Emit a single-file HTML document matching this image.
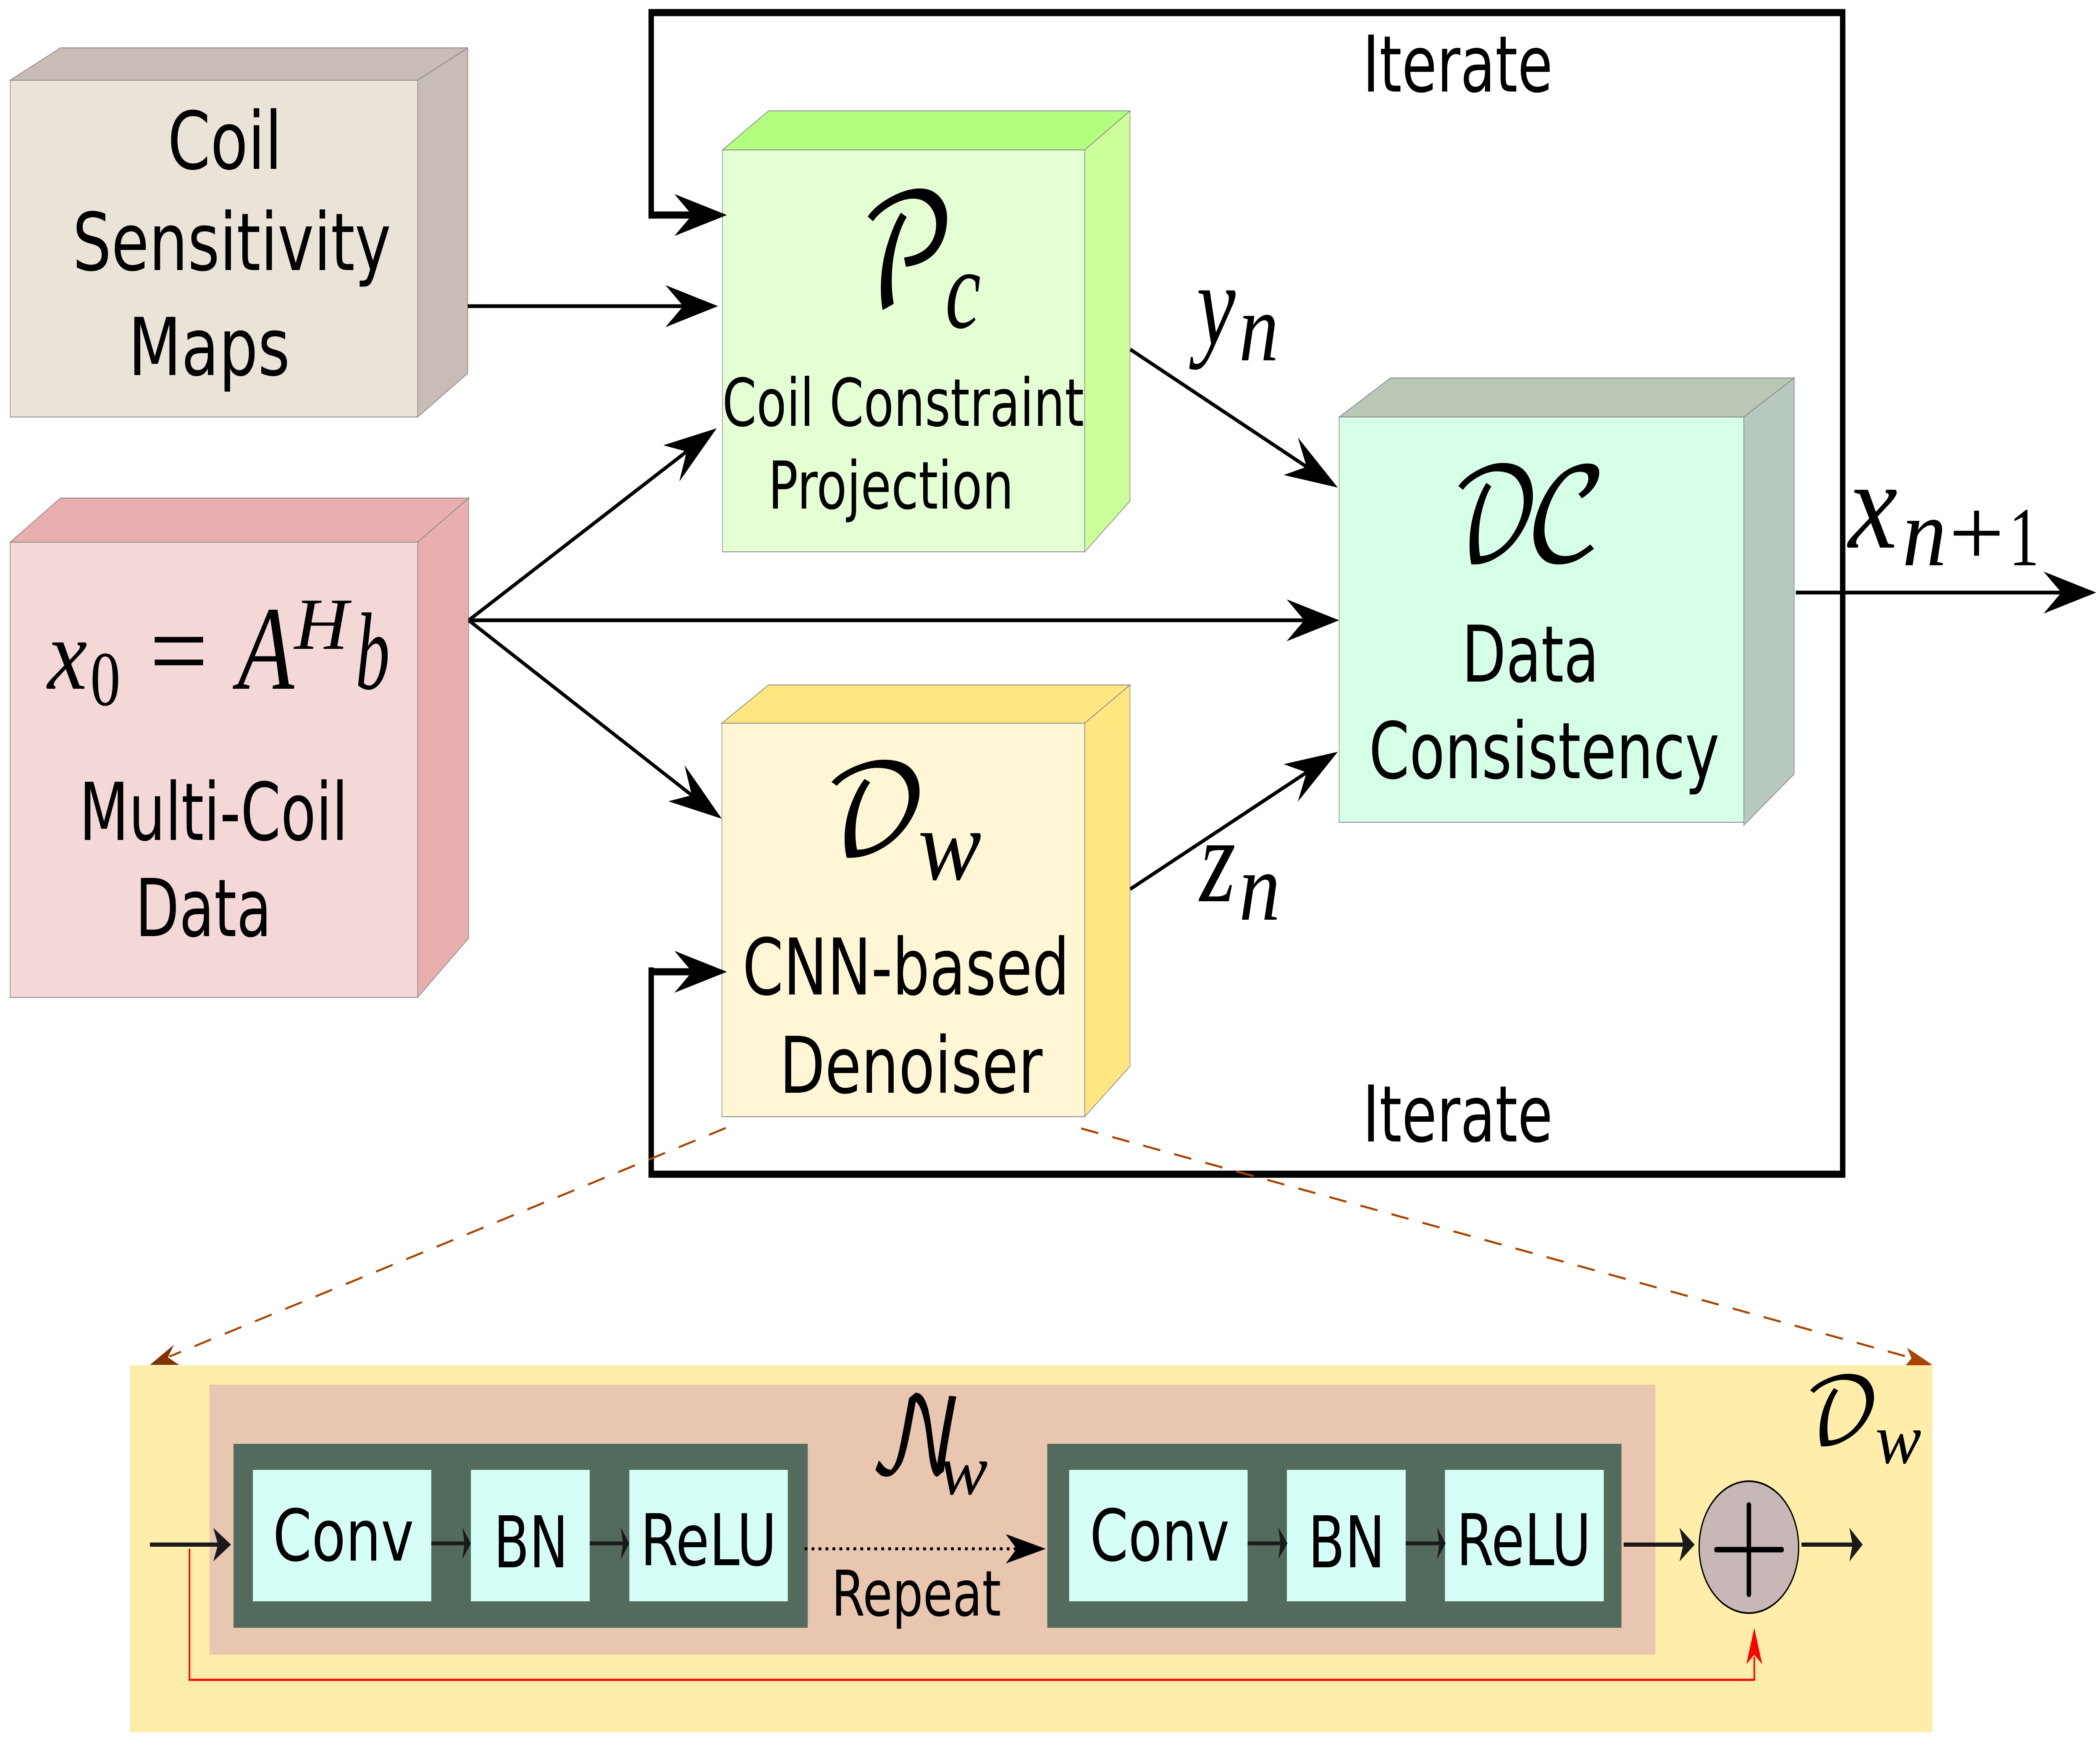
<!DOCTYPE html>
<html><head><meta charset="utf-8"><style>
html,body{margin:0;padding:0;background:#fff;width:6627px;height:4148px;overflow:hidden}
svg{display:block;width:100vw;height:100vh;position:absolute;left:0;top:0}
.s{font-family:"DejaVu Sans",sans-serif;fill:#000}
.m{font-family:"Liberation Serif",serif;font-style:italic;fill:#000}
.r{font-family:"Liberation Serif",serif;fill:#000}
.c{font-family:"DejaVu Math TeX Gyre","DejaVu Serif","DejaVu Sans","Liberation Serif",serif;fill:#000}
</style></head><body>
<svg xmlns="http://www.w3.org/2000/svg" viewBox="0 0 6627 4148" preserveAspectRatio="none">
<defs>
<marker id="h" markerUnits="userSpaceOnUse" orient="auto" overflow="visible" markerWidth="1" markerHeight="1" refX="0" refY="0"><path d="M60,0L-106,-50L-50,0L-106,50z" fill="#000"/></marker>
</defs>
<rect width="6627" height="4148" fill="#fff"/>

<g stroke="#888" stroke-width="2">
<polygon points="32,191 191,114 1476,114 1318,191" fill="#c8bcb6"/>
<polygon points="1318,191 1476,114 1476,889 1318,993" fill="#c8bcb6"/>
<rect x="32" y="191" width="1286" height="802" fill="#e9e3d8"/>
<polygon points="32,1291 191,1186 1479,1186 1318,1291" fill="#e9afaf"/>
<polygon points="1318,1291 1479,1186 1479,2234 1318,2375" fill="#e9afaf"/>
<rect x="32" y="1291" width="1286" height="1084" fill="#f4d7d7"/>
<polygon points="2280,357 2425,264 3566,264 3423,357" fill="#b3ff80"/>
<polygon points="3423,357 3566,264 3566,1193 3423,1314" fill="#ccff99"/>
<rect x="2280" y="357" width="1143" height="957" fill="#e5ffd5"/>
<polygon points="2278,1722 2425,1631 3566,1631 3423,1722" fill="#ffe680"/>
<polygon points="3423,1722 3566,1631 3566,2539 3423,2659" fill="#ffe680"/>
<rect x="2278" y="1722" width="1145" height="937" fill="#fff6d5"/>
<polygon points="4226,993 4388,900 5662,900 5503,993" fill="#bac6b6"/>
<polygon points="5503,993 5662,900 5662,1843 5503,1965" fill="#b7c8be"/>
<rect x="4226" y="993" width="1277" height="965" fill="#d5ffe6"/>
</g>

<path d="M2055,512V30H5815V2796H2055V2312" fill="none" stroke="#000" stroke-width="17" stroke-linejoin="miter" stroke-linecap="square"/>
<path d="M2055,512H2234" fill="none" stroke="#000" stroke-width="17" marker-end="url(#h)" stroke-linecap="butt"/>
<path d="M2055,2314H2234" fill="none" stroke="#000" stroke-width="17" marker-end="url(#h)" stroke-linecap="butt"/>
<g fill="none" stroke="#000" stroke-width="9">
<path d="M1476,729H2206" marker-end="url(#h)"/>
<path d="M1479,1477L2210,1050" marker-end="url(#h)"/>
<path d="M1479,1477H4166" marker-end="url(#h)"/>
<path d="M1479,1477L2226,1919" marker-end="url(#h)"/>
<path d="M3567,832L4168,1134" marker-end="url(#h)"/>
<path d="M3567,2117L4168,1817" marker-end="url(#h)"/>
<path d="M5667,1411H6555" marker-end="url(#h)"/>
</g>

<g class="s" font-size="190">
<text x="529" y="402" textLength="361" lengthAdjust="spacingAndGlyphs">Coil</text>
<text x="229" y="643" textLength="1005" lengthAdjust="spacingAndGlyphs">Sensitivity</text>
<text x="405" y="893" textLength="510" lengthAdjust="spacingAndGlyphs">Maps</text>
<text x="250" y="2000" textLength="848" lengthAdjust="spacingAndGlyphs">Multi-Coil</text>
<text x="427" y="2229" textLength="430" lengthAdjust="spacingAndGlyphs">Data</text>
<text x="2279" y="1014" font-size="157" textLength="1142" lengthAdjust="spacingAndGlyphs">Coil Constraint</text>
<text x="2424" y="1211" font-size="157" textLength="775" lengthAdjust="spacingAndGlyphs">Projection</text>
<text x="2343" y="2368" font-size="186" textLength="1032" lengthAdjust="spacingAndGlyphs">CNN-based</text>
<text x="2460" y="2602" font-size="186" textLength="830" lengthAdjust="spacingAndGlyphs">Denoiser</text>
<text x="4613" y="1623" font-size="186" textLength="433" lengthAdjust="spacingAndGlyphs">Data</text>
<text x="4320" y="1853" font-size="186" textLength="1106" lengthAdjust="spacingAndGlyphs">Consistency</text>
<text x="4300" y="218" font-size="186" textLength="600" lengthAdjust="spacingAndGlyphs">Iterate</text>
<text x="4300" y="2718" font-size="186" textLength="600" lengthAdjust="spacingAndGlyphs">Iterate</text>
</g>

<g>
<text class="c" x="2709" y="731" font-size="368" textLength="309" lengthAdjust="spacingAndGlyphs">𝒫</text>
<text class="m" x="2983" y="780" font-size="270" textLength="112" lengthAdjust="spacingAndGlyphs">c</text>
<text class="c" x="2595" y="2033" font-size="292" textLength="336" lengthAdjust="spacingAndGlyphs">𝒟</text>
<text class="m" x="2897" y="2094" font-size="240" textLength="200" lengthAdjust="spacingAndGlyphs">w</text>
<text class="c" x="4578" y="1334" font-size="302" textLength="284" lengthAdjust="spacingAndGlyphs">𝒟</text>
<text class="c" x="4810" y="1334" font-size="302" textLength="266" lengthAdjust="spacingAndGlyphs">𝒞</text>
<text class="m" x="150" y="1640" font-size="240" textLength="125" lengthAdjust="spacingAndGlyphs">x</text>
<text class="r" x="285" y="1679" font-size="185" textLength="95" lengthAdjust="spacingAndGlyphs">0</text>
<text class="r" x="472" y="1640" font-size="270" textLength="185" lengthAdjust="spacingAndGlyphs">=</text>
<text class="m" x="750" y="1640" font-size="285" textLength="178" lengthAdjust="spacingAndGlyphs">A</text>
<text class="m" x="929" y="1545" font-size="175" textLength="170" lengthAdjust="spacingAndGlyphs">H</text>
<text class="m" x="1122" y="1640" font-size="262" textLength="108" lengthAdjust="spacingAndGlyphs">b</text>
<text class="m" x="3776" y="820" font-size="280" textLength="123" lengthAdjust="spacingAndGlyphs">y</text>
<text class="m" x="3910" y="858" font-size="230" textLength="125" lengthAdjust="spacingAndGlyphs">n</text>
<text class="m" x="3786" y="2146" font-size="290" textLength="113" lengthAdjust="spacingAndGlyphs">z</text>
<text class="m" x="3910" y="2190" font-size="230" textLength="130" lengthAdjust="spacingAndGlyphs">n</text>
<text class="m" x="5833" y="1304" font-size="300" textLength="155" lengthAdjust="spacingAndGlyphs">x</text>
<text class="m" x="6003" y="1346" font-size="230" textLength="140" lengthAdjust="spacingAndGlyphs">n</text>
<text class="r" x="6150" y="1346" font-size="230" textLength="175" lengthAdjust="spacingAndGlyphs">+</text>
<text class="r" x="6340" y="1346" font-size="200" textLength="95" lengthAdjust="spacingAndGlyphs">1</text>
</g>

<path d="M2290,2686L535,3230" fill="none" stroke="#a40" stroke-width="5" stroke-dasharray="55 45"/>
<polygon points="473,3250 549,3202 530,3232 565,3250" fill="#803300"/>
<path d="M3412,2687L6040,3235" fill="none" stroke="#a40" stroke-width="5" stroke-dasharray="55 45"/>
<polygon points="6098,3250 6018,3209 6032,3234 6008,3257" fill="#a40"/>

<rect x="410" y="3251" width="5688" height="874" fill="#ffeeaa"/>
<rect x="661" y="3297" width="4563" height="643" fill="#e9c6af"/>
<rect x="737" y="3438" width="1812" height="438" fill="#536b5d"/>
<rect x="3305" y="3438" width="1812" height="438" fill="#536b5d"/>
<g fill="#d5fff6">
<rect x="798" y="3500" width="563" height="313"/>
<rect x="1486" y="3500" width="375" height="313"/>
<rect x="1986" y="3500" width="500" height="313"/>
<rect x="3374" y="3500" width="563" height="313"/>
<rect x="4061" y="3500" width="375" height="313"/>
<rect x="4560" y="3500" width="501" height="313"/>
</g>
<g class="s" font-size="170">
<text x="861" y="3716" textLength="445" lengthAdjust="spacingAndGlyphs">Conv</text>
<text x="1558" y="3732" textLength="235" lengthAdjust="spacingAndGlyphs">BN</text>
<text x="2021" y="3727" textLength="430" lengthAdjust="spacingAndGlyphs">ReLU</text>
<text x="3439" y="3716" textLength="441" lengthAdjust="spacingAndGlyphs">Conv</text>
<text x="4128" y="3732" textLength="243" lengthAdjust="spacingAndGlyphs">BN</text>
<text x="4596" y="3727" textLength="425" lengthAdjust="spacingAndGlyphs">ReLU</text>
<text x="2624" y="3847" font-size="150" textLength="535" lengthAdjust="spacingAndGlyphs">Repeat</text>
</g>
<text class="c" x="2741" y="3508" font-size="250" textLength="298" lengthAdjust="spacingAndGlyphs">𝒩</text>
<text class="m" x="2963" y="3558" font-size="170" textLength="154" lengthAdjust="spacingAndGlyphs">w</text>
<text class="c" x="5691" y="3437" font-size="216" textLength="244" lengthAdjust="spacingAndGlyphs">𝒟</text>
<text class="m" x="5918" y="3484" font-size="170" textLength="145" lengthAdjust="spacingAndGlyphs">w</text>

<g stroke="#1a1a1a" fill="none">
<path d="M473,3678H700" stroke-width="10"/>
<path d="M1361,3675H1470" stroke-width="9"/>
<path d="M1861,3675H1970" stroke-width="9"/>
<path d="M3937,3675H4045" stroke-width="9"/>
<path d="M4436,3675H4545" stroke-width="9"/>
<path d="M5124,3678H5325" stroke-width="10"/>
<path d="M5685,3678H5860" stroke-width="10"/>
</g>
<g fill="#1a1a1a">
<polygon points="729,3678 673,3638 688,3678 673,3718"/>
<polygon points="1486,3675 1459,3637 1466,3675 1459,3713"/>
<polygon points="1986,3675 1959,3637 1966,3675 1959,3713"/>
<polygon points="4063,3675 4034,3637 4041,3675 4034,3713"/>
<polygon points="4562,3675 4535,3637 4542,3675 4535,3713"/>
<polygon points="5348,3678 5300,3638 5312,3678 5300,3718"/>
<polygon points="5878,3678 5836,3638 5846,3678 5836,3718"/>
</g>
<path d="M2539,3688H3212" stroke="#000" stroke-width="7" stroke-dasharray="9 13" fill="none"/>
<polygon points="3300,3688 3174,3653 3208,3688 3174,3723" fill="#000"/>

<path d="M598,3688V4000H5536V3945" fill="none" stroke="#f00" stroke-width="5"/>
<polygon points="5536,3876 5511,3963 5536,3940 5561,3963" fill="#f00"/>

<circle cx="5519" cy="3684" r="157" fill="#c8b7b7" stroke="#000" stroke-width="4"/>
<path d="M5416,3690H5623" stroke="#000" stroke-width="13" stroke-linecap="round"/>
<path d="M5519,3584V3796" stroke="#000" stroke-width="14" stroke-linecap="round"/>
</svg>
</body></html>
